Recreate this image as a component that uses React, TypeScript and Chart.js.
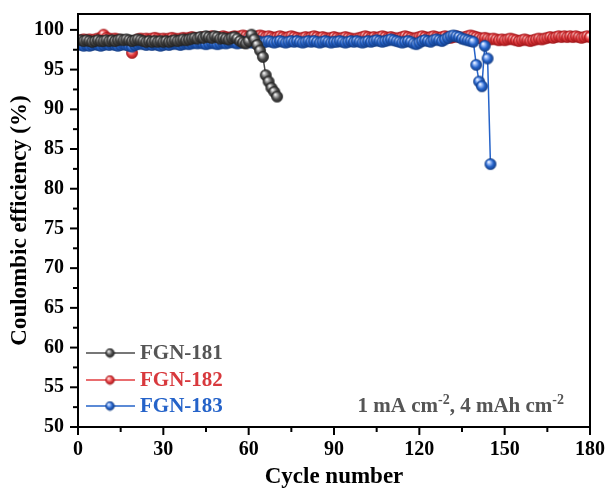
import React, { useEffect, useRef } from "react";
import { Chart, registerables } from "chart.js";

Chart.register(...registerables);

const seriesNames = ["FGN-181", "FGN-182", "FGN-183"];
const seriesColors = ["#4a4a4a", "#e23c3f", "#2563c9"];
const seriesLight = ["#bdbdbd", "#ffb0b0", "#a9c8ff"];
const seriesDark = ["#222222", "#9e1418", "#123c85"];
const legendTextColors = ["#555555", "#d8393d", "#2563c9"];

const xTicks = [0, 30, 60, 90, 120, 150, 180];
const yTicks = [50, 55, 60, 65, 70, 75, 80, 85, 90, 95, 100];

// FGN-181, cycles 1..70
const fgn181 = [
  98.7, 98.6, 98.7, 98.6, 98.5, 98.6, 98.7, 98.6, 98.6, 98.7,
  98.6, 98.7, 98.6, 98.7, 98.8, 98.7, 98.8, 98.7, 98.6, 98.7,
  98.8, 98.7, 98.6, 98.5, 98.6, 98.5, 98.6, 98.5, 98.6, 98.5,
  98.6, 98.5, 98.6, 98.7, 98.6, 98.7, 98.8, 98.7, 98.8, 98.9,
  99.0, 98.9, 99.1, 99.0, 99.2, 99.1, 99.0, 99.2, 99.1, 98.9,
  99.0, 98.9, 98.8, 99.0, 99.1, 98.9, 98.6, 98.4, 98.3, 98.6,
  99.4, 98.8, 98.1, 97.4, 96.6, 94.3, 93.5, 92.7, 92.2, 91.6,
];

// FGN-182, cycles 1..180
const fgn182 = [
  98.7, 98.8, 98.7, 98.8, 98.7, 98.8, 98.9, 99.0, 99.4, 99.0,
  98.9, 98.8, 98.9, 98.8, 98.7, 98.6, 98.5, 98.3, 97.1, 98.6,
  98.8, 98.9, 98.8, 98.9, 98.8, 98.9, 99.0, 98.9, 98.8, 98.9,
  98.8, 98.9, 99.0, 98.9, 98.8, 98.9, 99.0, 98.9, 99.0, 99.1,
  99.0, 98.9, 99.0, 99.1, 99.0, 99.1, 99.2, 99.1, 99.0, 99.1,
  99.2, 99.1, 99.0, 99.1, 99.2, 99.1, 99.2, 99.3, 99.2, 99.1,
  99.2, 99.1, 99.2, 99.3, 99.2, 99.1, 99.2, 99.1, 99.0, 99.1,
  99.2, 99.1, 99.0, 99.1, 99.2, 99.1, 99.0, 98.9, 99.0, 99.1,
  99.0, 99.1, 99.2, 99.1, 99.0, 99.1, 99.0, 98.9, 99.0, 99.1,
  99.0, 98.9, 99.0, 99.1, 99.0, 98.9, 98.8, 98.9, 99.0, 99.1,
  99.2, 99.1, 99.0, 99.1, 99.0, 99.1, 99.2, 99.1, 99.0, 99.1,
  99.0, 98.9, 99.0, 99.1, 99.2, 99.1, 99.0, 98.9, 99.0, 99.1,
  99.2, 99.1, 99.0, 99.1, 99.2, 99.1, 99.0, 99.1, 99.2, 99.1,
  99.0, 99.1, 99.2, 99.1, 99.0, 99.1, 99.2, 99.3, 99.2, 99.1,
  99.0, 98.9, 99.0, 98.9, 98.8, 98.9, 98.8, 98.7, 98.8, 98.7,
  98.8, 98.9, 98.8, 98.7, 98.6, 98.7, 98.8, 98.7, 98.6, 98.7,
  98.8, 98.9, 98.8, 98.9, 99.0, 99.1, 99.0, 99.1, 99.2, 99.1,
  99.2, 99.1, 99.2, 99.1, 99.2, 99.1, 99.0, 99.1, 99.2, 99.1,
];

// FGN-183, cycles 1..145
const fgn183 = [
  98.1, 98.0, 98.1, 98.0, 98.1, 98.2, 98.1, 98.0, 98.1, 98.2,
  98.1, 98.2, 98.1, 98.0, 98.1, 98.2, 98.1, 98.0, 97.9, 98.1,
  98.2, 98.3, 98.2, 98.1, 98.2, 98.1, 98.2, 98.1, 98.0, 98.1,
  98.2, 98.1, 98.2, 98.3, 98.2, 98.1, 98.2, 98.3, 98.2, 98.3,
  98.4, 98.3, 98.4, 98.3, 98.2, 98.3, 98.4, 98.3, 98.2, 98.3,
  98.4, 98.3, 98.4, 98.5, 98.4, 98.3, 98.4, 98.5, 98.4, 98.5,
  98.4, 98.5, 98.6, 98.5, 98.4, 98.5, 98.6, 98.5, 98.4, 98.5,
  98.6, 98.5, 98.4, 98.5, 98.6, 98.5, 98.6, 98.5, 98.4, 98.5,
  98.6, 98.5, 98.6, 98.5, 98.4, 98.5, 98.6, 98.5, 98.4, 98.5,
  98.5, 98.6, 98.5, 98.4, 98.5, 98.6, 98.5, 98.6, 98.5, 98.4,
  98.5, 98.6, 98.5, 98.6, 98.7, 98.6, 98.5, 98.6, 98.7, 98.8,
  98.7, 98.6, 98.5, 98.4, 98.5, 98.6, 98.5, 98.3, 98.2, 98.4,
  98.6, 98.7, 98.6, 98.5, 98.7, 98.8, 98.7, 98.6, 98.8, 99.0,
  99.2, 99.3, 99.2, 99.1, 98.9, 98.8, 98.7, 98.6, 98.5,
  95.6, 93.5, 92.9, 98.0, 96.4, 83.1,
];

const FONT = "'Liberation Serif', 'Times New Roman', serif";

function makeSphere(r: number, base: string, light: string, dark: string) {
  const size = Math.ceil(2 * r + 2);
  const c = document.createElement("canvas");
  c.width = size;
  c.height = size;
  const g = c.getContext("2d")!;
  const cx = size / 2;
  const cy = size / 2;
  const grad = g.createRadialGradient(cx - r * 0.35, cy - r * 0.4, r * 0.05, cx, cy, r * 1.05);
  grad.addColorStop(0, "#ffffff");
  grad.addColorStop(0.2, light);
  grad.addColorStop(0.6, base);
  grad.addColorStop(1, dark);
  g.beginPath();
  g.arc(cx, cy, r, 0, Math.PI * 2);
  g.fillStyle = grad;
  g.fill();
  g.lineWidth = 0.6;
  g.strokeStyle = dark;
  g.stroke();
  return c;
}

function toPoints(arr: number[]) {
  return arr.map((v, i) => ({ x: i + 1, y: v }));
}

function noScalePadding(scale: any) {
  scale.paddingTop = 0;
  scale.paddingBottom = 0;
  scale.paddingLeft = 0;
  scale.paddingRight = 0;
}

export default function App() {
  const ref = useRef<HTMLCanvasElement | null>(null);

  useEffect(() => {
    if (!ref.current) return;
    const spheres = seriesColors.map((c, i) => makeSphere(5.6, c, seriesLight[i], seriesDark[i]));
    const legendSpheres = seriesColors.map((c, i) => makeSphere(4.4, c, seriesLight[i], seriesDark[i]));

    const framePlugin = {
      id: "frame",
      afterDraw(chart: any) {
        const ctx = chart.ctx as CanvasRenderingContext2D;
        const { left, right, top, bottom } = chart.chartArea;
        const xs = chart.scales.x;
        const ys = chart.scales.y;
        ctx.save();
        ctx.strokeStyle = "#000";
        ctx.lineWidth = 2;
        ctx.strokeRect(left, top, right - left, bottom - top);
        ctx.lineWidth = 2;
        for (let v = 0; v <= 180; v += 15) {
          const px = xs.getPixelForValue(v);
          const len = v % 30 === 0 ? 8 : 5;
          ctx.beginPath();
          ctx.moveTo(px, bottom);
          ctx.lineTo(px, bottom + len);
          ctx.stroke();
        }
        for (let v = 50; v <= 100; v += 2.5) {
          const py = ys.getPixelForValue(v);
          const len = v % 5 === 0 ? 8 : 5;
          ctx.beginPath();
          ctx.moveTo(left, py);
          ctx.lineTo(left - len, py);
          ctx.stroke();
        }
        // legend
        const rows = [353, 380, 406];
        seriesNames.forEach((name, i) => {
          const y = rows[i];
          ctx.strokeStyle = seriesColors[i];
          ctx.lineWidth = 1.5;
          ctx.beginPath();
          ctx.moveTo(86, y);
          ctx.lineTo(135, y);
          ctx.stroke();
          const s = legendSpheres[i];
          ctx.drawImage(s, 110 - s.width / 2, y - s.height / 2);
          ctx.fillStyle = legendTextColors[i];
          ctx.font = `bold 21px ${FONT}`;
          ctx.textBaseline = "middle";
          ctx.textAlign = "left";
          ctx.fillText(name, 140, y + 1);
        });
        // annotation
        const parts: [string, boolean][] = [
          ["1 mA cm", false],
          ["-2", true],
          [", 4 mAh cm", false],
          ["-2", true],
        ];
        const mainFont = `bold 21px ${FONT}`;
        const supFont = `bold 14px ${FONT}`;
        let total = 0;
        parts.forEach(([t, sup]) => {
          ctx.font = sup ? supFont : mainFont;
          total += ctx.measureText(t).width;
        });
        let x = 564 - total;
        const base = 412;
        ctx.fillStyle = "#555555";
        ctx.textBaseline = "alphabetic";
        ctx.textAlign = "left";
        parts.forEach(([t, sup]) => {
          ctx.font = sup ? supFont : mainFont;
          ctx.fillText(t, x, sup ? base - 8 : base);
          x += ctx.measureText(t).width;
        });
        ctx.restore();
      },
    };

    const datasets = [
      { idx: 0, data: fgn181 },
      { idx: 2, data: fgn183 },
      { idx: 1, data: fgn182 },
    ].map(({ idx, data }) => ({
      label: seriesNames[idx],
      data: toPoints(data),
      borderColor: seriesColors[idx],
      backgroundColor: seriesColors[idx],
      borderWidth: 1.5,
      pointStyle: spheres[idx] as any,
      pointRadius: 5.6,
      pointHoverRadius: 5.6,
      tension: 0,
    }));

    const chart = new Chart(ref.current, {
      type: "line",
      data: { datasets },
      plugins: [framePlugin],
      options: {
        animation: false,
        responsive: false,
        events: [],
        layout: { padding: { top: 14, right: 17, left: 0, bottom: 0 } },
        plugins: { legend: { display: false }, tooltip: { enabled: false } },
        scales: {
          x: {
            type: "linear",
            min: 0,
            max: 180,
            border: { display: false },
            grid: { display: false, drawTicks: false },
            afterBuildTicks: (scale: any) => {
              scale.ticks = xTicks.map((v) => ({ value: v }));
            },
            ticks: {
              autoSkip: false,
              maxRotation: 0,
              padding: 11,
              color: "#000",
              font: { family: FONT, size: 20, weight: "bold" },
            },
            title: {
              display: true,
              text: "Cycle number",
              color: "#000",
              font: { family: FONT, size: 23, weight: "bold" },
              padding: { top: 0, bottom: 0 },
            },
            afterFit: (scale: any) => {
              scale.height = 64;
              noScalePadding(scale);
            },
          },
          y: {
            type: "linear",
            min: 50,
            max: 102,
            border: { display: false },
            grid: { display: false, drawTicks: false },
            afterBuildTicks: (scale: any) => {
              scale.ticks = yTicks.map((v) => ({ value: v }));
            },
            ticks: {
              autoSkip: false,
              padding: 14,
              color: "#000",
              font: { family: FONT, size: 20, weight: "bold" },
            },
            title: {
              display: true,
              text: "Coulombic efficiency (%)",
              color: "#000",
              font: { family: FONT, size: 23, weight: "bold" },
              padding: { top: 6, bottom: 0 },
            },
            afterFit: (scale: any) => {
              scale.width = 78;
              noScalePadding(scale);
            },
          },
        },
      },
    } as any);
    return () => chart.destroy();
  }, []);

  return (
    <div style={{ position: "absolute", left: 0, top: 0, width: 607, height: 491, background: "#fff" }}>
      <canvas ref={ref} width={607} height={491} />
    </div>
  );
}
